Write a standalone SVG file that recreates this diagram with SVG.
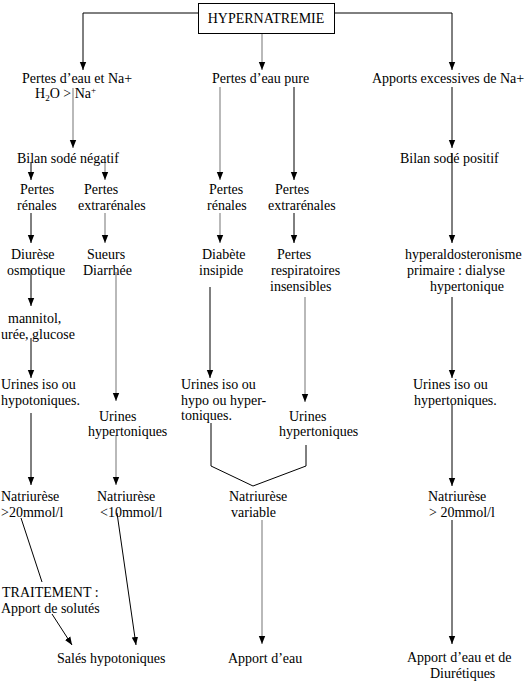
<svg xmlns="http://www.w3.org/2000/svg" width="525" height="696" viewBox="0 0 525 696">
<style>
text{font-family:"Liberation Serif","Times New Roman",serif;font-size:14px;fill:#000}
.l{fill:none;stroke:#000;stroke-width:1}
.g{fill:none;stroke:#8a8a8a;stroke-width:1.2}
.a{marker-end:url(#ah)}
</style>
<defs>
<marker id="ah" viewBox="0 0 8 8" refX="8" refY="4" markerWidth="8" markerHeight="8" markerUnits="userSpaceOnUse" orient="auto">
<path d="M0,0.8 L8,4 L0,7.2 z" fill="#000"/>
</marker>
</defs>
<rect width="525" height="696" fill="#fff"/>
<g id="connectors">
<path class="l a" d="M198,13 H83 V70"/>
<path class="g a" d="M262,34 V70"/>
<path class="l a" d="M335,13 H452 V70"/>
<path class="g a" d="M73,88 V148"/>
<path class="g a" d="M220,87 V180"/>
<path class="l a" d="M294,87 V180"/>
<path class="l a" d="M452,87 V148"/>
<path class="l a" d="M31,162 V180"/>
<path class="g a" d="M105,162 V180"/>
<path class="l a" d="M31,213 V243"/>
<path class="g a" d="M105,213 V243"/>
<path class="g a" d="M220,213 V243"/>
<path class="l a" d="M294,213 V243"/>
<path class="l a" d="M452,153 V243"/>
<path class="l a" d="M31,270 V306"/>
<path class="l a" d="M31,338 V378"/>
<path class="g a" d="M116,272 V401"/>
<path class="l a" d="M210,287 V378"/>
<path class="g a" d="M305,297 V402"/>
<path class="l a" d="M452,297 V378"/>
<path class="l a" d="M31,413 V485"/>
<path class="g a" d="M116,435 V485"/>
<path class="l" d="M211,423 V466 L253,486 L306,466 V445"/>
<path class="l a" d="M452,404 V486"/>
<path class="g a" d="M262,520 V644"/>
<path class="l a" d="M452,520 V644"/>
<path class="l" d="M21,518 L42,582"/>
<path class="l a" d="M52,614 L72,645"/>
<path class="l a" d="M117,513 L136,645"/>
</g>
<g id="hypernatremie">
<rect x="198.5" y="3.5" width="136" height="30" fill="none" stroke="#000"/>
<text x="266" y="23" text-anchor="middle">HYPERNATREMIE</text>
</g>
<g id="pertes-eau-na">
<text x="22" y="83">Pertes d’eau et Na+</text>
<text x="35" y="98">H<tspan font-size="9" dy="3">2</tspan><tspan dy="-3">O &gt; Na</tspan><tspan font-size="9" dy="-5">+</tspan></text>
</g>
<g id="pertes-eau-pure"><text x="212" y="83">Pertes d’eau pure</text></g>
<g id="apports-na"><text x="372" y="83">Apports excessives de Na+</text></g>
<g id="bilan-negatif"><text x="17" y="163">Bilan sodé négatif</text></g>
<g id="bilan-positif"><text x="400" y="163">Bilan sodé positif</text></g>
<g id="pertes-renales-1"><text x="20" y="194">Pertes</text><text x="17" y="210">rénales</text></g>
<g id="pertes-extrarenales-1"><text x="84" y="194">Pertes</text><text x="78" y="210">extrarénales</text></g>
<g id="pertes-renales-2"><text x="209" y="194">Pertes</text><text x="207" y="210">rénales</text></g>
<g id="pertes-extrarenales-2"><text x="275" y="194">Pertes</text><text x="268" y="210">extrarénales</text></g>
<g id="diurese"><text x="11" y="259">Diurèse</text><text x="7" y="275">osmotique</text></g>
<g id="sueurs"><text x="87" y="259">Sueurs</text><text x="83" y="275">Diarrhée</text></g>
<g id="diabete"><text x="202" y="259">Diabète</text><text x="199" y="275">insipide</text></g>
<g id="respiratoires"><text x="277" y="259">Pertes</text><text x="271" y="275">respiratoires</text><text x="270" y="291">insensibles</text></g>
<g id="hyperaldo"><text x="405" y="259">hyperaldosteronisme</text><text x="407" y="275">primaire : dialyse</text><text x="430" y="291">hypertonique</text></g>
<g id="mannitol"><text x="8" y="323">mannitol,</text><text x="1" y="339">urée, glucose</text></g>
<g id="urines-hypo"><text x="1" y="389">Urines iso ou</text><text x="1" y="405">hypotoniques.</text></g>
<g id="urines-hyper-1"><text x="99" y="421">Urines</text><text x="88" y="436">hypertoniques</text></g>
<g id="urines-var"><text x="181" y="389">Urines iso ou</text><text x="181" y="405">hypo ou hyper-</text><text x="181" y="420">toniques.</text></g>
<g id="urines-hyper-2"><text x="289" y="421">Urines</text><text x="279" y="436">hypertoniques</text></g>
<g id="urines-iso-hyper"><text x="413" y="389">Urines iso ou</text><text x="414" y="405">hypertoniques.</text></g>
<g id="natriurese-20"><text x="1" y="501">Natriurèse</text><text x="1" y="517">&gt;20mmol/l</text></g>
<g id="natriurese-10"><text x="97" y="501">Natriurèse</text><text x="100" y="517">&lt;10mmol/l</text></g>
<g id="natriurese-var"><text x="229" y="501">Natriurèse</text><text x="231" y="517">variable</text></g>
<g id="natriurese-20b"><text x="428" y="501">Natriurèse</text><text x="429" y="517">&gt; 20mmol/l</text></g>
<g id="traitement"><text x="2" y="597">TRAITEMENT :</text><text x="1" y="613">Apport de solutés</text></g>
<g id="sales"><text x="57" y="663">Salés hypotoniques</text></g>
<g id="apport-eau"><text x="228" y="663">Apport d’eau</text></g>
<g id="apport-diur"><text x="407" y="662">Apport d’eau et de</text><text x="430" y="678">Diurétiques</text></g>
</svg>
